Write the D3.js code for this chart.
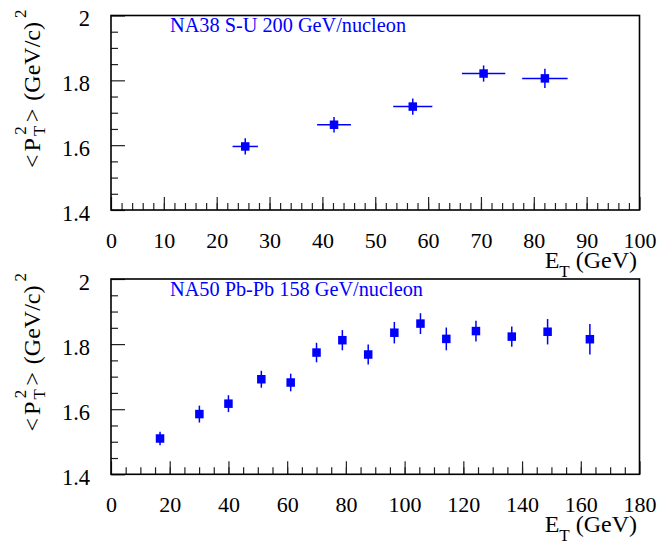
<!DOCTYPE html>
<html>
<head>
<meta charset="utf-8">
<script src="https://cdn.jsdelivr.net/npm/d3@7"></script>
<style>
  body { margin: 0; background: #fff; }
  svg { display: block; }
</style>
</head>
<body>
<svg width="661" height="546"></svg>
<script>
// NA38 S-U 200 GeV/nucleon
var na38Et = [25.4, 42.2, 57.1, 70.5, 82.1];
var na38EtErr = [2.4, 3.2, 3.7, 4.1, 4.3];
var na38Pt2 = [1.596, 1.663, 1.719, 1.821, 1.806];
var na38Pt2Err = [0.025, 0.024, 0.025, 0.025, 0.030];

// NA50 Pb-Pb 158 GeV/nucleon
var na50Et = [16.7, 30.1, 40.0, 51.2, 61.2, 70.0, 78.8, 87.6, 96.5, 105.4, 114.2, 124.3, 136.5, 148.7, 163.1];
var na50Pt2 = [1.510, 1.585, 1.617, 1.692, 1.682, 1.774, 1.812, 1.768, 1.835, 1.863, 1.816, 1.840, 1.823, 1.838, 1.815];
var na50Pt2Err = [0.021, 0.026, 0.026, 0.026, 0.027, 0.030, 0.031, 0.031, 0.033, 0.032, 0.035, 0.032, 0.031, 0.039, 0.047];

// tick values
var topXMajor = [0, 10, 20, 30, 40, 50, 60, 70, 80, 90, 100];
var botXMajor = [0, 20, 40, 60, 80, 100, 120, 140, 160, 180];
var yMajor = [1.4, 1.6, 1.8, 2];
var yMinor = [1.45, 1.5, 1.55, 1.65, 1.7, 1.75, 1.85, 1.9, 1.95];

var serif = 'Liberation Serif';
var svg = d3.select('svg').style('font-family', serif);
var blue = '#0000ff';

var left = 111, right = 639.5;

function minorTicks(max, step) {
    var out = [];
    for (var i = 1; i * step < max; i++) out.push(i * step);
    return out;
}

function drawPanel(cfg) {
    var g = svg.append('g');

    var x = d3.scaleLinear().domain([0, cfg.xMax]).range([left, right]);
    var y = d3.scaleLinear().domain([1.4, 2]).range([cfg.bottom, cfg.top]);

    // x axis: major ticks with labels, minor ticks without
    var xAx = g.append('g')
        .attr('transform', 'translate(0,' + cfg.bottom + ')')
        .call(d3.axisBottom(x).tickValues(cfg.xMajor).tickSizeInner(-13).tickSizeOuter(0)
            .tickFormat(function (d) { return String(d); }));
    xAx.attr('font-family', null).attr('font-size', null);
    xAx.selectAll('text').attr('y', 38).attr('dy', null).attr('fill', '#000')
        .style('font-family', serif).style('font-size', '22px');
    xAx.select('.domain').remove();

    var xMin = g.append('g')
        .attr('transform', 'translate(0,' + cfg.bottom + ')')
        .call(d3.axisBottom(x).tickValues(minorTicks(cfg.xMax, cfg.xMinorStep)).tickSizeInner(-7).tickSizeOuter(0).tickFormat(''));
    xMin.select('.domain').remove();

    // y axis
    var yAx = g.append('g')
        .attr('transform', 'translate(' + left + ',0)')
        .call(d3.axisLeft(y).tickValues(yMajor).tickSizeInner(-14).tickSizeOuter(0).tickPadding(21)
            .tickFormat(function (d) { return String(d); }));
    yAx.attr('font-family', null).attr('font-size', null);
    yAx.selectAll('text').attr('dy', null).attr('y', 10).attr('fill', '#000')
        .style('font-family', serif).style('font-size', '22.5px');
    yAx.select('.domain').remove();

    var yMin = g.append('g')
        .attr('transform', 'translate(' + left + ',0)')
        .call(d3.axisLeft(y).tickValues(yMinor).tickSizeInner(-7).tickSizeOuter(0).tickFormat(''));
    yMin.select('.domain').remove();

    g.selectAll('.tick line').attr('stroke', '#222').attr('stroke-width', 1.2);

    // frame
    g.append('rect')
        .attr('x', left).attr('y', cfg.top)
        .attr('width', right - left).attr('height', cfg.bottom - cfg.top)
        .attr('fill', 'none').attr('stroke', '#000').attr('stroke-width', 1.6);

    // data
    var pts = cfg.et.map(function (e, i) {
        return { et: e, etErr: cfg.etErr ? cfg.etErr[i] : 0, v: cfg.pt2[i], vErr: cfg.pt2Err[i] };
    });

    var pg = g.append('g');
    pg.selectAll('.ey').data(pts).enter().append('line')
        .attr('x1', function (d) { return x(d.et); })
        .attr('x2', function (d) { return x(d.et); })
        .attr('y1', function (d) { return y(d.v - d.vErr); })
        .attr('y2', function (d) { return y(d.v + d.vErr); })
        .attr('stroke', blue).attr('stroke-width', 1.5);

    pg.selectAll('.ex').data(pts.filter(function (d) { return d.etErr > 0; })).enter().append('line')
        .attr('x1', function (d) { return x(d.et - d.etErr); })
        .attr('x2', function (d) { return x(d.et + d.etErr); })
        .attr('y1', function (d) { return y(d.v); })
        .attr('y2', function (d) { return y(d.v); })
        .attr('stroke', blue).attr('stroke-width', 1.5);

    pg.selectAll('.dot').data(pts).enter().append('rect')
        .attr('x', function (d) { return x(d.et) - 4.25; })
        .attr('y', function (d) { return y(d.v) - 4.25; })
        .attr('width', 8.5).attr('height', 8.5)
        .attr('fill', blue);

    // label in the plot
    g.append('text')
        .attr('x', 170).attr('y', cfg.top + 16.8)
        .style('font-family', serif).style('font-size', '20.3px')
        .attr('fill', blue)
        .text(cfg.label);

    // y title
    var yt = g.append('text')
        .attr('transform', 'translate(40,' + (cfg.top - 6) + ') rotate(-90)')
        .attr('text-anchor', 'end')
        .style('font-family', serif).style('font-size', '24px');
    yt.append('tspan').text('<');
    yt.append('tspan').attr('dx', 3).text('P');
    yt.append('tspan').style('font-size', '17px').attr('dy', 5).attr('dx', 2).text('T');
    yt.append('tspan').style('font-size', '17px').attr('dy', -19).attr('dx', -9).text('2');
    yt.append('tspan').attr('dy', 14).attr('dx', 4).text('>');
    yt.append('tspan').attr('dx', 2).text('\u00a0(GeV/c)');
    yt.append('tspan').style('font-size', '17px').attr('dy', -14).attr('dx', 4).text('2');

    // x title
    var xt = g.append('text')
        .attr('x', 637).attr('y', cfg.bottom + 57.5)
        .attr('text-anchor', 'end')
        .style('font-family', serif).style('font-size', '24px');
    xt.append('tspan').text('E');
    xt.append('tspan').style('font-size', '17px').attr('dy', 9.5).text('T');
    xt.append('tspan').attr('dy', -9.5).text('\u00a0(GeV)');
}

drawPanel({
    top: 15.5, bottom: 210, xMax: 100, xMajor: topXMajor, xMinorStep: 2,
    et: na38Et, etErr: na38EtErr, pt2: na38Pt2, pt2Err: na38Pt2Err,
    label: 'NA38 S-U 200 GeV/nucleon'
});

drawPanel({
    top: 279, bottom: 474.3, xMax: 180, xMajor: botXMajor, xMinorStep: 5,
    et: na50Et, etErr: null, pt2: na50Pt2, pt2Err: na50Pt2Err,
    label: 'NA50 Pb-Pb 158 GeV/nucleon'
});
</script>
</body>
</html>
